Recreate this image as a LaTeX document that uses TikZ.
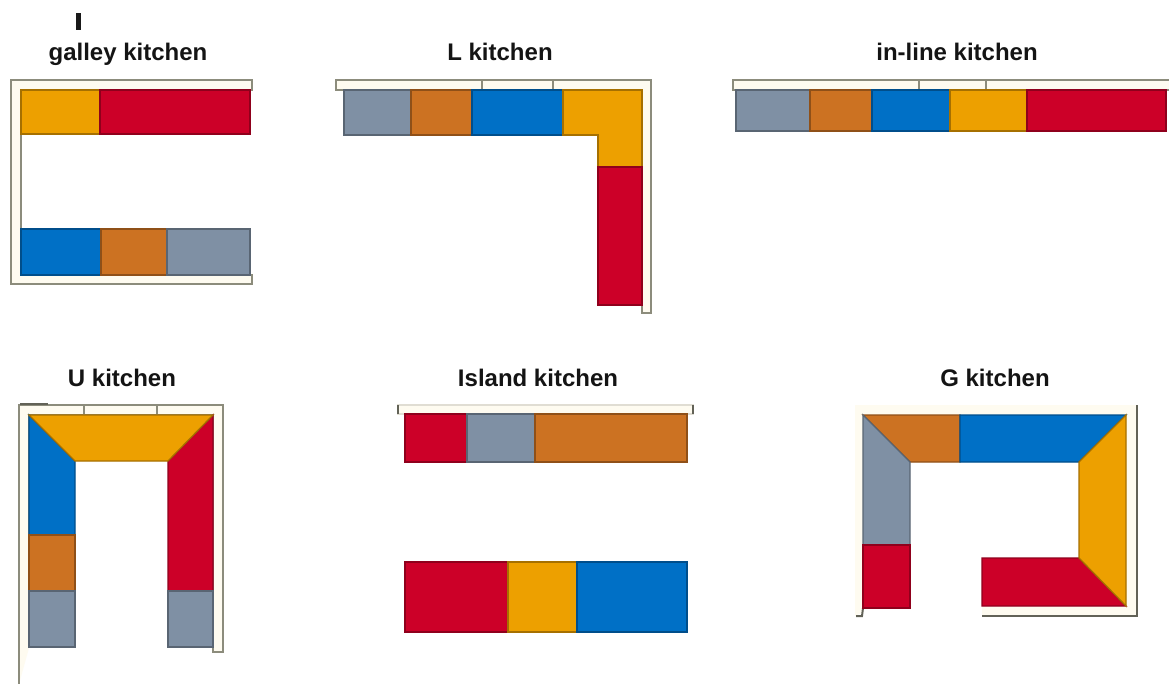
\documentclass[tikz,border=0pt]{standalone}
\usepackage{fontspec}
\setmainfont{Liberation Sans}
\definecolor{cabOrange}{HTML}{EDA000}
\definecolor{cabRed}{HTML}{CC0028}
\definecolor{cabBlue}{HTML}{0070C6}
\definecolor{cabBrown}{HTML}{CC7222}
\definecolor{cabGrey}{HTML}{7F90A4}
\definecolor{wallFill}{HTML}{FEFBF0}
\definecolor{wallLine}{HTML}{8C8C7C}
\tikzset{
  cab/.style={fill=#1, draw=#1!70!black, line width=1.3pt, line join=miter},
  wall/.style={fill=wallFill, draw=wallLine, line width=1.8pt, line join=miter},
  softwall/.style={fill=wallFill, draw=wallFill!88!black, line width=1.2pt},
  darkedge/.style={draw=wallLine!70!black, line width=2pt},
  tick/.style={draw=wallLine, line width=1.6pt},
  title/.style={font=\fontsize{24}{28}\selectfont\bfseries, text=black!92, anchor=base, inner sep=0pt},
}
\begin{document}
\begin{tikzpicture}[x=1pt,y=-1pt]
\useasboundingbox (0,0) rectangle (1169,684);
\fill[white] (0,0) rectangle (1169,684);

% titles
\node[title] (tGalley) at (128,61) {galley kitchen};
\node[title] (tL) at (500,61) {L kitchen};
\node[title] (tInline) at (957,61) {in-line kitchen};
\node[title] (tU) at (122,386) {U kitchen};
\node[title] (tIsland) at (538,386) {Island kitchen};
\node[title] (tG) at (995,386) {G kitchen};
\fill[black!90] (76,13) rectangle (81,30);

% galley
\draw[wall] (252,80) -- (11,80) -- (11,284) -- (252,284) -- (252,275) -- (21,275) -- (21,90) -- (252,90) -- cycle;
\draw[cab=cabOrange] (21,90) rectangle (100,134);
\draw[cab=cabRed] (100,90) rectangle (250,134);
\draw[cab=cabBlue] (21,229) rectangle (101,275);
\draw[cab=cabBrown] (101,229) rectangle (167,275);
\draw[cab=cabGrey] (167,229) rectangle (250,275);

% L
\draw[wall] (336,80) -- (651,80) -- (651,313) -- (642,313) -- (642,90) -- (336,90) -- cycle;
\draw[tick] (482,80) -- (482,90) (553,80) -- (553,90);
\draw[cab=cabGrey] (344,90) rectangle (411,135);
\draw[cab=cabBrown] (411,90) rectangle (472,135);
\draw[cab=cabBlue] (472,90) rectangle (563,135);
\draw[cab=cabOrange] (563,90) -- (642,90) -- (642,167) -- (598,167) -- (598,135) -- (563,135) -- cycle;
\draw[cab=cabRed] (598,167) rectangle (642,305);

% in-line
\draw[wall] (1169,80) -- (733,80) -- (733,90) -- (1169,90);
\draw[tick] (919,80) -- (919,90) (986,80) -- (986,90);
\draw[cab=cabGrey] (736,90) rectangle (810,131);
\draw[cab=cabBrown] (810,90) rectangle (872,131);
\draw[cab=cabBlue] (872,90) rectangle (950,131);
\draw[cab=cabOrange] (950,90) rectangle (1027,131);
\draw[cab=cabRed] (1027,90) rectangle (1166,131);

% U
\draw[wall] (19,684) -- (19,405) -- (223,405) -- (223,652) -- (213,652) -- (213,415) -- (29,415) -- (29,648);
\draw[tick] (84,405) -- (84,415) (157,405) -- (157,415);
\draw[darkedge] (20,404) -- (48,404);
\draw[cab=cabBlue] (29,415) -- (75,461) -- (75,535) -- (29,535) -- cycle;
\draw[cab=cabBrown] (29,535) rectangle (75,591);
\draw[cab=cabGrey] (29,591) rectangle (75,647);
\draw[cab=cabRed] (213,415) -- (168,461) -- (168,591) -- (213,591) -- cycle;
\draw[cab=cabGrey] (168,591) rectangle (213,647);
\draw[cab=cabOrange] (29,415) -- (213,415) -- (168,461) -- (75,461) -- cycle;

% island
\draw[softwall] (398,405) -- (693,405) -- (693,414) -- (398,414) -- cycle;
\draw[darkedge] (398,405) -- (398,414) (693,405) -- (693,414);
\draw[cab=cabRed] (405,414) rectangle (467,462);
\draw[cab=cabGrey] (467,414) rectangle (535,462);
\draw[cab=cabBrown] (535,414) rectangle (687,462);
\draw[cab=cabRed] (405,562) rectangle (508,632);
\draw[cab=cabOrange] (508,562) rectangle (577,632);
\draw[cab=cabBlue] (577,562) rectangle (687,632);

% G
\fill[wallFill] (855,405) -- (1137,405) -- (1137,616) -- (982,616) -- (982,607) -- (1126,607) -- (1126,415) -- (863,415) -- (863,612) -- (855,616) -- cycle;
\draw[darkedge] (1137,405) -- (1137,616) -- (982,616);
\draw[darkedge] (863,608) -- (862,616) -- (856,616);
\draw[cab=cabBrown] (863,415) -- (960,415) -- (960,462) -- (910,462) -- cycle;
\draw[cab=cabBlue] (960,415) -- (1126,415) -- (1079,462) -- (960,462) -- cycle;
\draw[cab=cabGrey] (863,415) -- (910,462) -- (910,545) -- (863,545) -- cycle;
\draw[cab=cabRed] (863,545) rectangle (910,608);
\draw[cab=cabRed] (982,558) -- (1079,558) -- (1126,606) -- (982,606) -- cycle;
\draw[cab=cabOrange] (1126,415) -- (1126,606) -- (1079,558) -- (1079,462) -- cycle;
\end{tikzpicture}
\end{document}
